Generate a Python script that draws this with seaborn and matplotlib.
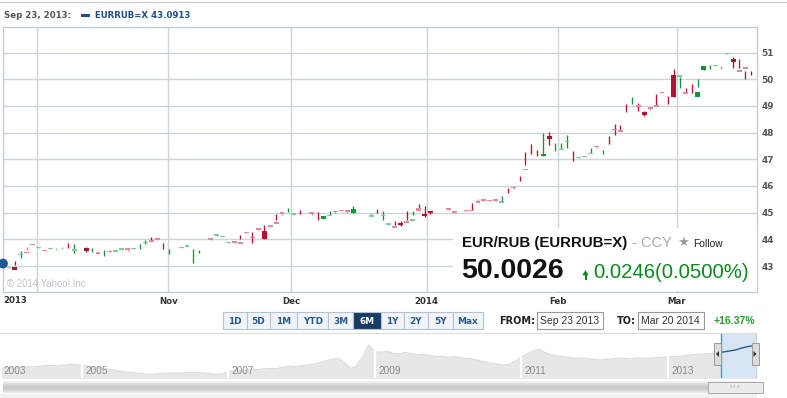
import numpy as np
import pandas as pd
import matplotlib
matplotlib.use("Agg")
import matplotlib.pyplot as plt
import matplotlib.dates as mdates
import matplotlib.transforms as mtrans
from matplotlib.patches import Rectangle, Polygon
import seaborn as sns

# ---------------- data ----------------
symbol = "EURRUB=X"
pair_name = "EUR/RUB (EURRUB=X)"
start_label = "Sep 23, 2013"
start_value = 43.0913
last_price = "50.0026"
change_text = "0.0246(0.0500%)"
range_change = "+16.37%"
from_date = "Sep 23 2013"
to_date = "Mar 20 2014"
range_buttons = ["1D", "5D", "1M", "YTD", "3M", "6M", "1Y", "2Y", "5Y", "Max"]
selected_range = "6M"
y_ticks = [43, 44, 45, 46, 47, 48, 49, 50, 51]
month_ticks = ["2013-10-01", "2013-11-01", "2013-11-30", "2014-01-01", "2014-02-01", "2014-03-01"]
month_labels = ["", "Nov", "Dec", "2014", "Feb", "Mar"]
first_label = "2013"
period_start = "2013-09-23"
period_end = "2014-03-20"

nan = np.nan
opens = [43.05, 42.93, 42.95, 43.43, 43.54, 43.81, 43.66, 43.60, 43.64, 43.63,
         43.68, 43.79, 43.58, 43.63, 43.67, 43.60, 43.51, 43.48, 43.58, 43.53,
         43.60, 43.66, 43.62, 43.72, 43.88, 43.97, 44.05, 43.75, 43.53, 43.60,
         43.68, 43.73, 43.40, 43.53, 43.67, 44.05, 44.11, 44.07, 43.87, 43.92,
         43.91, 44.29, 44.07, 44.42, 44.32, 44.52, 44.66, 45.01, 45.10, 44.93,
         45.04, 44.99, 45.03, 44.89, 44.78, 44.86, 45.08, 45.10, 45.09, 44.99,
         45.21, 45.24, 44.82, 45.06, 44.89, 44.55, 44.49, 44.61, 44.70, 44.70,
         45.16, 44.96, 45.07, nan, 45.16, 45.18, 45.07, nan, 45.10, 45.10,
         45.45, 45.50, 45.47, 45.50, 45.36, 45.83, 45.97, 46.29, 46.65, 47.39,
         47.24, 47.11, 47.89, 47.45, 47.33, 47.66, 47.14, 47.05, 47.07, 47.19,
         47.51, 47.28, 47.74, 48.12, 48.09, 48.92, 49.19, 49.05, 48.76, 48.95,
         49.05, 49.54, 49.24, 50.16, 50.08, 49.51, 49.65, 49.32, 50.35, 50.45,
         50.50, 50.47, 50.95, 50.76, 50.35, 50.47, 50.24, 50.14]
highs = [43.12, 42.97, 43.20, 43.57, 43.71, 43.81, 43.73, 43.60, 43.66, 43.67,
         43.73, 43.87, 43.83, 43.65, 43.73, 43.67, 43.51, 43.60, 43.60, 43.61,
         43.67, 43.67, 43.69, 43.81, 43.96, 44.10, 44.07, 43.86, 43.63, 43.61,
         43.73, 43.78, 43.63, 43.60, 43.69, 44.05, 44.19, 44.13, 43.91, 43.92,
         44.16, 44.29, 44.28, 44.42, 44.55, 44.52, 44.95, 45.01, 45.17, 44.99,
         45.10, 44.99, 45.03, 45.03, 44.89, 45.06, 45.08, 45.10, 45.10, 45.26,
         45.23, 45.26, 45.00, 45.13, 45.07, 44.62, 44.68, 44.68, 45.05, 45.07,
         45.32, 45.26, 45.08, nan, 45.18, 45.18, 45.07, nan, 45.10, 45.37,
         45.52, 45.50, 45.47, 45.50, 45.63, 45.91, 45.97, 46.37, 47.26, 47.57,
         47.36, 47.97, 48.01, 47.61, 47.61, 47.92, 47.32, 47.10, 47.14, 47.42,
         47.51, 47.36, 47.89, 48.32, 48.29, 49.08, 49.32, 49.12, 48.80, 48.95,
         49.45, 49.54, 49.39, 50.39, 50.07, 49.66, 49.82, 50.00, 50.51, 50.54,
         50.55, 50.51, 51.00, 50.83, 50.76, 50.32, 50.32, 50.14]
lows = [43.03, 42.93, 43.05, 43.31, 43.60, 43.79, 43.66, 43.55, 43.64, 43.60,
        43.64, 43.69, 43.50, 43.63, 43.53, 43.52, 43.44, 43.37, 43.52, 43.51,
        43.60, 43.56, 43.62, 43.65, 43.81, 43.97, 43.96, 43.63, 43.44, 43.60,
        43.67, 43.73, 43.11, 43.47, 43.67, 43.97, 44.11, 44.07, 43.87, 43.85,
        44.00, 44.25, 43.85, 44.35, 44.01, 44.46, 44.72, 44.93, 45.04, 44.93,
        44.96, 44.97, 44.92, 44.73, 44.78, 44.93, 45.00, 45.05, 45.00, 44.99,
        45.21, 45.24, 44.90, 44.97, 44.73, 44.55, 44.55, 44.50, 44.72, 44.90,
        45.16, 44.85, 44.95, nan, 45.16, 45.11, 45.00, nan, 45.05, 45.10,
        45.45, 45.42, 45.42, 45.42, 45.44, 45.74, 45.90, 46.20, 46.79, 47.20,
        47.11, 47.11, 47.54, 47.30, 47.40, 47.41, 46.95, 47.05, 47.07, 47.25,
        47.43, 47.21, 47.57, 47.92, 48.09, 48.76, 49.08, 48.80, 48.63, 48.86,
        49.05, 49.50, 49.08, 49.32, 49.68, 49.51, 49.47, 49.70, 50.35, 50.38,
        50.50, 50.39, 50.95, 50.41, 50.43, 50.01, 50.15, 50.12]
closes = [43.09, 42.97, 42.85, 43.44, 43.47, 43.79, 43.73, 43.55, 43.66, 43.64,
          43.69, 43.78, 43.64, 43.65, 43.56, 43.61, 43.44, 43.49, 43.54, 43.59,
          43.67, 43.60, 43.68, 43.73, 43.89, 43.89, 43.97, 43.74, 43.54, 43.61,
          43.72, 43.77, 43.41, 43.54, 43.69, 43.98, 44.19, 44.13, 43.91, 43.85,
          43.83, 44.25, 44.06, 44.35, 44.01, 44.46, 44.58, 44.94, 45.11, 44.99,
          45.03, 44.97, 44.96, 44.88, 44.88, 44.93, 45.01, 45.05, 45.02, 45.13,
          45.23, 45.26, 44.90, 45.05, 44.90, 44.62, 44.41, 44.52, 44.62, 44.77,
          45.08, 44.87, 44.98, nan, 45.18, 45.11, 45.00, nan, 45.05, 45.05,
          45.38, 45.44, 45.42, 45.45, 45.44, 45.82, 45.91, 46.28, 46.58, 47.38,
          47.23, 47.21, 47.76, 47.46, 47.40, 47.67, 47.13, 47.10, 47.13, 47.25,
          47.45, 47.29, 47.73, 48.11, 48.01, 48.91, 49.20, 48.97, 48.67, 48.88,
          48.97, 49.50, 49.23, 49.32, 50.16, 49.44, 49.64, 49.54, 50.51, 50.46,
          50.55, 50.45, 51.00, 50.66, 50.29, 50.40, 50.23, 50.12]

# navigator overview (monthly, Dec 2003 .. Mar 2014, plus the last day), as drawn in the picture
nav_values = [35.9, 36.2, 36.0, 36.4, 36.6, 36.5, 36.8, 37.0, 37.1, 36.9, 37.2, 37.5, 37.6,
              37.2, 36.8, 36.4, 36.2, 35.8, 35.3, 34.9, 34.5, 34.2, 34.0, 33.7, 33.5,
              33.6, 33.8, 33.9, 34.0, 33.9, 34.1, 34.3, 34.2, 34.0, 33.8, 33.5, 33.6,
              34.6, 35.2, 35.0, 35.3, 35.5, 35.4, 35.7, 35.9, 35.8, 36.3, 36.9, 36.6,
              37.0, 37.3, 37.6, 38.2, 39.0, 39.6, 40.0, 38.5, 35.9, 36.8, 40.5, 45.5,
              42.7, 42.5, 42.9, 42.1, 41.8, 42.4, 42.0, 41.4, 41.7, 41.2, 40.9, 40.7,
              40.5, 40.7, 40.3, 40.0, 39.8, 39.2, 38.6, 38.0, 37.6, 37.3, 37.5, 38.8,
              40.5, 42.0, 43.0, 43.8, 42.3, 41.4,
              41.0, 40.6, 40.3, 40.0, 40.2, 39.8,
              39.5, 39.3, 39.6, 39.8, 40.1, 40.0,
              39.8, 40.2, 40.0, 40.1, 40.3, 40.4, 40.6, 40.7,
              40.9, 41.2, 41.5, 41.7, 41.8, 42.0, 42.1,
              42.6, 43.0, 43.4, 44.2, 44.8, 45.2, 45.4]
nav_year_labels = ["2003", "2005", "2007", "2009", "2011", "2013"]
nav_start = "2003-11-22"

# ---------------- figure ----------------
sns.set_theme(style="white")
plt.rcParams['font.family'] = ['DejaVu Sans']
W, H = 787, 398
fig = plt.figure(figsize=(W / 100, H / 100), dpi=100)
fig.patch.set_facecolor("white")


def box(x0, y0, x1, y1):
    return [x0 / W, 1 - y1 / H, (x1 - x0) / W, (y1 - y0) / H]


GRID = "#cbd5de"
DR, LR, DG, LG = "#b3132f", "#e0899a", "#11963a", "#82cb9a"

dates = pd.date_range(period_start, period_end, periods=len(closes))
xd = mdates.date2num(dates.to_pydatetime())
o, h, l, c = (np.array(a, float) for a in (opens, highs, lows, closes))
ok = ~np.isnan(c)

ax = fig.add_axes(box(3, 27.3, 757, 291.7))
ax.set_facecolor("white")
ax.set_xlim(mdates.date2num(pd.Timestamp(period_start)), mdates.date2num(pd.Timestamp(period_end)))
ax.set_ylim(42.037, 51.947)
for s in ax.spines.values():
    s.set_color("#c3cdd6")
    s.set_linewidth(1.0)
ax.set_yticks(y_ticks)
ax.yaxis.tick_right()
ax.tick_params(axis="y", length=0, pad=3, labelsize=6.4, labelcolor="#555555")
for t in ax.get_yticklabels():
    t.set_fontweight("bold")
mt = mdates.date2num([pd.Timestamp(m) for m in month_ticks])
ax.set_xticks(mt)
ax.set_xticklabels(month_labels)
ax.tick_params(axis="x", length=0, pad=4, labelsize=6.2, labelcolor="#333333")
for t in ax.get_xticklabels():
    t.set_fontweight("bold")
ax.grid(True, color=GRID, lw=1.0)
ax.set_axisbelow(True)
ax.text(0.001, -0.018, first_label, transform=ax.transAxes, ha="left", va="top",
        fontsize=6.2, fontweight="bold", color="#333333")
ax.text(0.005, 0.012, "\u00a9 2014 Yahoo! Inc.", transform=ax.transAxes, ha="left", va="bottom",
        fontsize=6.9, color="#b9c3cc", family="Liberation Sans")

rising = c >= o
body_dark = np.abs(c - o) >= 0.085
wick_dark = (h - l) >= 0.12


def colour(r, d):
    if r:
        return DG if d else LG
    return DR if d else LR


wick_cols = [colour(r, d) for r, d in zip(rising[ok], wick_dark[ok])]
body_cols = [colour(r, d) for r, d in zip(rising[ok], body_dark[ok])]
ax.vlines(xd[ok], l[ok], h[ok], colors=wick_cols, lw=0.95, zorder=3)
ax.bar(xd[ok], np.abs(c - o)[ok], bottom=np.minimum(o, c)[ok], width=1.15,
       color=body_cols, linewidth=0, zorder=4)
sns.scatterplot(x=[xd[0]], y=[start_value], ax=ax, s=50, color="#1e5a96",
                edgecolor="none", zorder=6, clip_on=False, legend=False)
ax.set_xlabel("")
ax.set_ylabel("")

# ---------------- navigator ----------------
nav = fig.add_axes(box(0, 333, 757, 378))
nav_dates = pd.date_range("2003-12-01", "2014-03-01", freq="MS").append(pd.DatetimeIndex([period_end]))
nx = mdates.date2num(nav_dates.to_pydatetime())
nv = np.array(nav_values, float)
nav.set_xlim(mdates.date2num(pd.Timestamp(nav_start)), mdates.date2num(pd.Timestamp(period_end)))
nav.set_ylim(31.95, 50.4)
nav.fill_between(nx, 0, nv, color="#e7e7e7", lw=0)
nav.plot(nx, nv, color="#dadada", lw=0.8)
for yl in nav_year_labels:
    d = mdates.date2num(pd.Timestamp(f"{yl}-01-01"))
    if d > nav.get_xlim()[0]:
        nav.axvline(d, color="white", lw=1.6, zorder=3)
        xt = d
    else:
        xt = nav.get_xlim()[0]
    tr = mtrans.offset_copy(mtrans.blended_transform_factory(nav.transData, nav.transAxes),
                            fig=fig, x=3.5, y=0, units="dots")
    nav.text(xt, 0.09, yl, transform=tr, ha="left", va="baseline", fontsize=7.2,
             color="#8a8a8a", family="Liberation Sans", zorder=4)
s0 = mdates.date2num(pd.Timestamp(period_start))
s1 = mdates.date2num(pd.Timestamp(period_end))
span = nav.axvspan(s0, s1, color="#d7e6f2", zorder=4, lw=0)
sel = nx >= mdates.date2num(pd.Timestamp("2013-09-01"))
sns.lineplot(x=nx[sel], y=nv[sel], ax=nav, color="#2a5b8e", lw=1.0, zorder=5)
nav.lines[-1].set_clip_path(span)
nav.axis("off")
for sx in (s0, s1):
    nav.axvline(sx, color="#3a9ae0", lw=1.0, zorder=6)

# ---------------- overlay (UI chrome) ----------------
ov = fig.add_axes([0, 0, 1, 1], zorder=10)
ov.set_xlim(0, W)
ov.set_ylim(H, 0)
ov.axis("off")
ov.patch.set_alpha(0)

ov.plot([0, W], [2, 2], color="#d0d0d0", lw=1)
ov.text(4, 16, start_label + ":", fontsize=6.2, fontweight="bold", color="#555555", va="center")
ov.add_patch(Rectangle((81, 14), 9, 3, color="#1f4f87", lw=0))
ov.text(95, 16, f"{symbol} {start_value:.4f}", fontsize=6.2, fontweight="bold", color="#1f4f87", va="center")

# info box
ov.add_patch(Rectangle((453, 228), 303.5, 63, fc="white", ec="none"))
ov.text(461.5, 247.3, pair_name, fontsize=10.8, fontweight="bold", color="#111111",
        family="Liberation Sans", va="baseline")
ov.text(632, 247.3, "- CCY", fontsize=10.5, color="#a8a8a8", family="Liberation Sans", va="baseline")
ov.text(683.5, 242, "\u2605", fontsize=9.5, color="#9a9a9a", ha="center", va="center")
ov.text(693, 247.3, "Follow", fontsize=7.4, color="#222222", family="Liberation Sans", va="baseline")
ov.text(461, 277.5, last_price, fontsize=20.5, fontweight="bold", color="#111111",
        family="Liberation Sans", va="baseline")
ov.add_patch(Polygon([(582.3, 275.2), (585.5, 270.2), (588.7, 275.2)], closed=True, color="#0a8a1e", lw=0))
ov.add_patch(Rectangle((584.5, 275), 2, 5, color="#0a8a1e", lw=0))
ov.text(593.5, 278.5, change_text, fontsize=14.6, color="#0a8a1e", family="Liberation Sans", va="baseline")

# range buttons
edges = [223.2, 246.8, 270.4, 297.3, 328.4, 352.8, 380.8, 404.0, 427.6, 452.7, 482.7]
for i, lab in enumerate(range_buttons):
    x0, x1 = edges[i], edges[i + 1]
    is_sel = lab == selected_range
    ov.add_patch(Rectangle((x0, 312), x1 - x0, 17, fc="#173c66" if is_sel else "#f1f5f9",
                           ec="#b3c3d3", lw=0.8))
    ov.text((x0 + x1) / 2, 321, lab, ha="center", va="center", fontsize=6.4, fontweight="bold",
            color="white" if is_sel else "#2a5a8c")

ov.text(499.5, 321, "FROM:", fontsize=7, fontweight="bold", color="#222222", va="center")
ov.add_patch(Rectangle((536.5, 312), 66, 17, fc="white", ec="#9a9a9a", lw=0.8))
ov.text(569.5, 321, from_date, fontsize=7.5, color="#333333", family="Liberation Sans", ha="center", va="center")
ov.text(616.5, 321, "TO:", fontsize=7, fontweight="bold", color="#222222", va="center")
ov.add_patch(Rectangle((637.5, 312), 66, 17, fc="white", ec="#9a9a9a", lw=0.8))
ov.text(670.5, 321, to_date, fontsize=7.5, color="#333333", family="Liberation Sans", ha="center", va="center")
ov.text(713.5, 321, range_change, fontsize=7.6, fontweight="bold", color="#2c9a2c",
        family="Liberation Sans", va="center")

# navigator frame line and handles
ov.plot([0, 757], [332.5, 332.5], color="#dcdcdc", lw=0.8)
for hx, tri in ((717.5, -1), (755, 1)):
    ov.add_patch(Rectangle((hx - 3.5, 343), 7, 22, fc="#dcdcdc", ec="#9a9a9a", lw=0.7))
    ov.add_patch(Polygon([(hx - 1.5 * tri, 351), (hx + 1.5 * tri, 354), (hx - 1.5 * tri, 357)],
                         closed=True, color="#333333", lw=0))

# scrollbar gradient
shades = [0.95, 0.92, 0.88, 0.85, 0.82, 0.80, 0.79, 0.80, 0.82, 0.85, 0.88, 0.91]
for k, g in enumerate(shades):
    ov.add_patch(Rectangle((2.5, 381 + k), 754.5, 1, fc=(g, g, g), lw=0))
ov.add_patch(Rectangle((708, 381.5), 55, 11, fc="#ececec", ec="#a8a8a8", lw=0.7))
ov.text(735.5, 387, "\u25e6\u25e6\u25e6", fontsize=5, color="#9a9a9a", ha="center", va="center")
ov.add_patch(Rectangle((0, 394), 757, 4, fc="#f1f1f1", lw=0))

fig.savefig("out.png", dpi=100)
